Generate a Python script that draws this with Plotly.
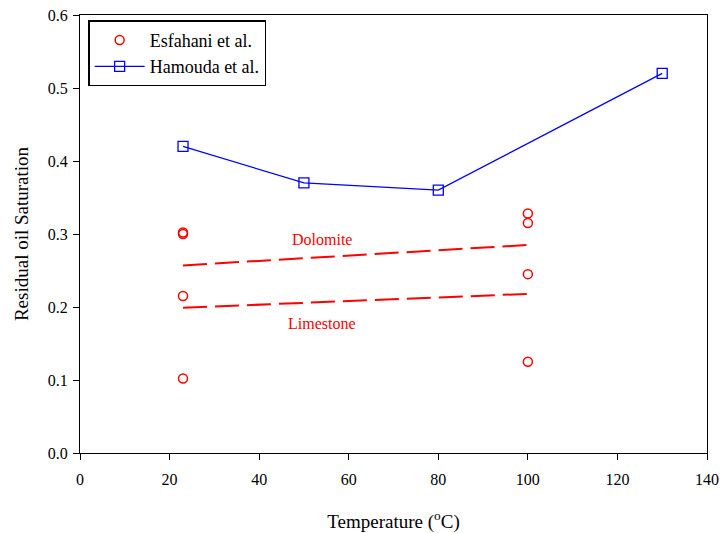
import plotly.graph_objects as go

esf_x = [23, 23, 23, 23, 100, 100, 100, 100]
esf_y = [0.302, 0.300, 0.215, 0.102, 0.328, 0.315, 0.245, 0.125]

ham_x = [23, 50, 80, 130]
ham_y = [0.42, 0.37, 0.36, 0.52]

dol_x = [23, 100]
dol_y = [0.257, 0.285]
lim_x = [23, 100]
lim_y = [0.199, 0.218]

labels = ["Dolomite", "Limestone"]
label_x = [54, 54]
label_y = [0.292, 0.177]

x_ticks = [0, 20, 40, 60, 80, 100, 120, 140]
y_ticks = [0.0, 0.1, 0.2, 0.3, 0.4, 0.5, 0.6]

FONT = "Liberation Serif"

fig = go.Figure()
fig.add_trace(go.Scatter(x=dol_x, y=dol_y, mode="lines", showlegend=False,
                         line=dict(color="red", width=2, dash="24px,8px")))
fig.add_trace(go.Scatter(x=lim_x, y=lim_y, mode="lines", showlegend=False,
                         line=dict(color="red", width=2, dash="24px,8px")))
fig.add_trace(go.Scatter(x=esf_x, y=esf_y, mode="markers", name="Esfahani et al.",
                         marker=dict(symbol="circle-open", color="red", size=9,
                                     line=dict(width=1.5, color="red"))))
fig.add_trace(go.Scatter(x=ham_x, y=ham_y, mode="lines+markers", name="Hamouda et al.",
                         line=dict(color="blue", width=1.3),
                         marker=dict(symbol="square-open", color="blue", size=10,
                                     line=dict(width=1.3, color="blue"))))

for t, xx, yy in zip(labels, label_x, label_y):
    fig.add_annotation(x=xx, y=yy, text=t, showarrow=False,
                       font=dict(family=FONT, size=16, color="red"))

fig.update_layout(
    width=720, height=533,
    margin=dict(l=80, r=13, t=15, b=80, autoexpand=False),
    paper_bgcolor="white", plot_bgcolor="white",
    font=dict(family=FONT, size=16, color="black"),
    legend=dict(x=0.013, y=0.988, xanchor="left", yanchor="top",
                bordercolor="black", borderwidth=1.5, bgcolor="white",
                font=dict(family=FONT, size=18), itemwidth=50,
                tracegroupgap=0),
    xaxis=dict(range=[0, 140], tickvals=x_ticks, ticks="outside", ticklen=6,
               tickcolor="black", showline=True, linecolor="black", linewidth=1.2,
               mirror=True, showgrid=False, zeroline=False, automargin=False,
               tickfont=dict(family=FONT, size=16), ticklabelstandoff=6,
               title=dict(text="Temperature (<sup>o</sup>C)",
                          font=dict(family=FONT, size=19), standoff=28)),
    yaxis=dict(range=[0, 0.6], tickvals=y_ticks, tickformat=".1f", ticks="outside",
               ticklen=6, tickcolor="black", showline=True, linecolor="black",
               linewidth=1.2, mirror=True, showgrid=False, zeroline=False, automargin=False,
               tickfont=dict(family=FONT, size=16), ticklabelstandoff=2,
               title=dict(text="Residual oil Saturation",
                          font=dict(family=FONT, size=19), standoff=14)),
)

fig.write_html("out.html")
